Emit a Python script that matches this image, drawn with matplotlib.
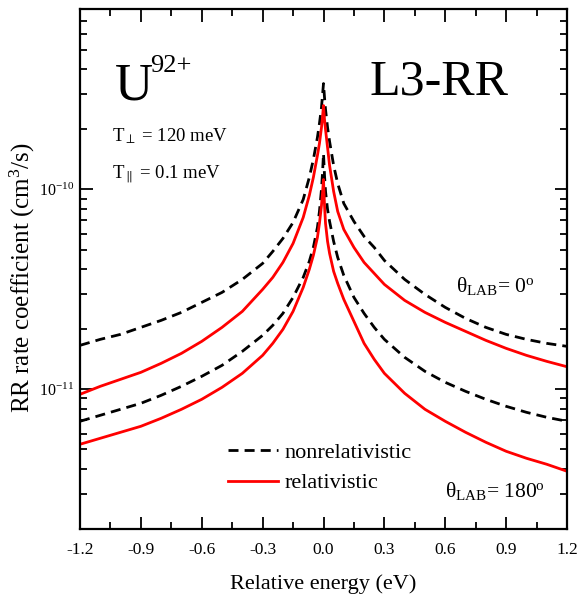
import numpy as np
import matplotlib
matplotlib.use("Agg")
import matplotlib.pyplot as plt
from matplotlib.ticker import MultipleLocator, FixedLocator, NullFormatter

plt.rcParams['font.family'] = ['Liberation Serif', 'DejaVu Serif']
plt.rcParams['mathtext.fontset'] = 'custom'
plt.rcParams['mathtext.rm'] = 'Liberation Serif'
plt.rcParams['mathtext.it'] = 'Liberation Serif:italic'
plt.rcParams['mathtext.bf'] = 'Liberation Serif:bold'

# Relative energy (eV)
energy = [-1.2, -1.1, -1.0, -0.9, -0.8, -0.7, -0.6, -0.5, -0.4, -0.3, -0.25, -0.2,
          -0.15, -0.1, -0.07, -0.05, -0.03, -0.02, -0.01, -0.005, 0.0,
          0.005, 0.01, 0.02, 0.03, 0.05, 0.07, 0.1, 0.15, 0.2, 0.25, 0.3, 0.4,
          0.5, 0.6, 0.7, 0.8, 0.9, 1.0, 1.1, 1.2]

# log10 of RR rate coefficient (cm^3/s)
log_nonrel_0 = [-10.78, -10.75, -10.725, -10.69, -10.655, -10.615, -10.565, -10.515, -10.45,
                -10.37, -10.31, -10.245, -10.165, -10.05, -9.94, -9.85, -9.74, -9.67, -9.59,
                -9.53, -9.47,
                -9.54, -9.60, -9.69, -9.76, -9.88, -9.97, -10.07, -10.16, -10.235, -10.29,
                -10.355, -10.45, -10.525, -10.59, -10.645, -10.69, -10.725, -10.75, -10.77,
                -10.785]
log_rel_0 = [-11.025, -10.985, -10.95, -10.915, -10.87, -10.82, -10.76, -10.69, -10.61,
             -10.50, -10.44, -10.365, -10.27, -10.14, -10.03, -9.94, -9.83, -9.77, -9.69,
             -9.64, -9.58,
             -9.65, -9.70, -9.79, -9.88, -10.01, -10.11, -10.20, -10.29, -10.365, -10.42,
             -10.475, -10.555, -10.615, -10.665, -10.71, -10.755, -10.795, -10.83, -10.86,
             -10.887]
log_nonrel_180 = [-11.16, -11.13, -11.10, -11.07, -11.03, -10.985, -10.935, -10.88, -10.81,
                  -10.73, -10.68, -10.62, -10.54, -10.44, -10.36, -10.29, -10.19, -10.11,
                  -10.0, -9.92, -9.82,
                  -9.93, -10.01, -10.10, -10.16, -10.26, -10.34, -10.43, -10.54, -10.62,
                  -10.69, -10.75, -10.84, -10.91, -10.965, -11.01, -11.05, -11.085, -11.115,
                  -11.14, -11.16]
log_rel_180 = [-11.275, -11.245, -11.215, -11.185, -11.145, -11.10, -11.05, -10.99, -10.92,
               -10.83, -10.77, -10.70, -10.61, -10.49, -10.40, -10.33, -10.24, -10.17,
               -10.08, -10.02, -9.95,
               -10.08, -10.17, -10.26, -10.32, -10.41, -10.47, -10.55, -10.66, -10.77,
               -10.85, -10.92, -11.02, -11.10, -11.16, -11.215, -11.265, -11.31, -11.345,
               -11.375, -11.41]

series_labels = ["nonrelativistic", "relativistic"]
x_ticks = [-1.2, -0.9, -0.6, -0.3, 0.0, 0.3, 0.6, 0.9, 1.2]
y_ticks = [1e-11, 1e-10]

nr0 = [10 ** v for v in log_nonrel_0]
r0 = [10 ** v for v in log_rel_0]
nr180 = [10 ** v for v in log_nonrel_180]
r180 = [10 ** v for v in log_rel_180]

fig = plt.figure(figsize=(5.86, 6.0), dpi=100)
ax = fig.add_axes([80 / 586, 71 / 600, 487 / 586, 520 / 600])

dash = (3.6, 2.2)
ax.plot(energy, nr0, color='black', lw=2.0, dashes=dash, label=series_labels[0])
ax.plot(energy, r0, color='#ff0000', lw=2.0, label=series_labels[1])
ax.plot(energy, nr180, color='black', lw=2.0, dashes=dash)
ax.plot(energy, r180, color='#ff0000', lw=2.0)

ax.set_yscale('log')
ax.set_xlim(-1.2, 1.2)
ax.set_ylim(2e-12, 8e-10)

ax.set_xticks(x_ticks)
ax.set_xticklabels([f"{t:.1f}" for t in x_ticks])
ax.xaxis.set_minor_locator(MultipleLocator(0.15))
ax.yaxis.set_major_locator(FixedLocator(y_ticks))
minor_y = [m * 10.0 ** e for e in (-12, -11, -10) for m in range(2, 10)
           if 2e-12 <= m * 10.0 ** e <= 8e-10]
ax.yaxis.set_minor_locator(FixedLocator(minor_y))
ax.yaxis.set_minor_formatter(NullFormatter())

ax.tick_params(which='both', direction='in', top=True, right=True, width=1.3)
ax.tick_params(which='major', length=9, labelsize=12.5, pad=9)
ax.tick_params(which='minor', length=5)
ax.tick_params(axis='y', which='major', labelsize=11.5, pad=4)
for s in ax.spines.values():
    s.set_linewidth(1.6)

ax.set_xlabel("Relative energy (eV)", fontsize=16, labelpad=12)
ax.set_ylabel(r"RR rate coefficient (cm$^{3}$/s)", fontsize=18)
ax.yaxis.set_label_coords(-0.088, 0.484)

ax.text(0.072, 0.826, "U", transform=ax.transAxes, fontsize=38)
ax.text(0.144, 0.879, "92+", transform=ax.transAxes, fontsize=19)
ax.text(0.595, 0.836, "L3-RR", transform=ax.transAxes, fontsize=36)
ax.text(0.066, 0.745, r"T$_{\perp}$ = 120 meV", transform=ax.transAxes, fontsize=13.5)
ax.text(0.066, 0.675, r"T$_{\parallel}$ = 0.1 meV", transform=ax.transAxes, fontsize=13.5)
ax.text(0.773, 0.455, r"θ$_{\rm LAB}$= 0$^{\rm o}$", transform=ax.transAxes, fontsize=15.5)
ax.text(0.75, 0.062, r"θ$_{\rm LAB}$= 180$^{\rm o}$", transform=ax.transAxes, fontsize=15.5)

leg = ax.legend(loc='lower left', bbox_to_anchor=(0.263, 0.03), frameon=False,
                fontsize=16, handlelength=2.25, handletextpad=0.3, labelspacing=0.45)

fig.savefig("out.png", dpi=100)
